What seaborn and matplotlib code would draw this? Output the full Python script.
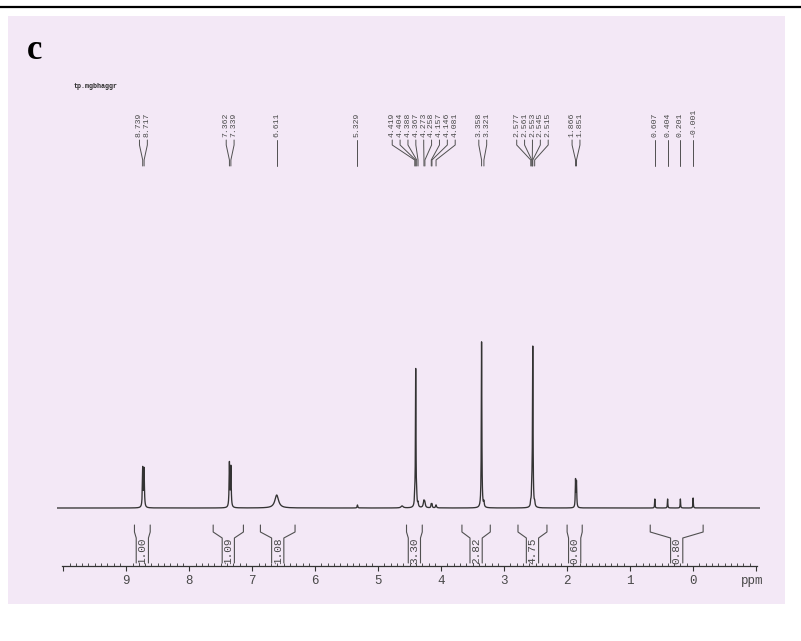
import numpy as np
import pandas as pd
import matplotlib
matplotlib.use("Agg")
import matplotlib.pyplot as plt
from matplotlib.patches import Rectangle
from matplotlib.lines import Line2D
from matplotlib.ticker import FixedLocator
import seaborn as sns

# ---- 1H NMR peak list: chemical shift (ppm), height, half width ----
peak_ppm = [8.739, 8.717, 7.362, 7.339, 6.611, 5.329, 4.620,
            4.419, 4.404, 4.388, 4.367, 4.273, 4.258, 4.157, 4.146, 4.081,
            3.358, 3.321,
            2.577, 2.561, 2.553, 2.545, 2.515,
            1.866, 1.851,
            0.607, 0.404, 0.201, -0.001]
peak_height = [39, 38, 44, 40, 13, 3, 2,
               8, 138, 6, 4, 7, 4, 3.5, 3.5, 3,
               166, 5,
               4, 15, 12, 157, 4,
               27, 25,
               9, 9, 9, 10]
peak_hwhm = [0.006, 0.006, 0.006, 0.006, 0.035, 0.006, 0.02,
             0.005, 0.005, 0.005, 0.006, 0.012, 0.008, 0.006, 0.006, 0.008,
             0.005, 0.006,
             0.005, 0.005, 0.005, 0.005, 0.006,
             0.005, 0.005,
             0.004, 0.004, 0.004, 0.004]

# ---- peak-pick labels, grouped as printed above the spectrum ----
shift_groups = [
    ["8.739", "8.717"],
    ["7.362", "7.339"],
    ["6.611"],
    ["5.329"],
    ["4.419", "4.404", "4.388", "4.367", "4.273", "4.258", "4.157", "4.146", "4.081"],
    ["3.358", "3.321"],
    ["2.577", "2.561", "2.553", "2.545", "2.515"],
    ["1.866", "1.851"],
    ["0.607"],
    ["0.404"],
    ["0.201"],
    ["-0.001"],
]

# ---- integrals: value and region (left ppm, right ppm) ----
integral_values = [1.00, 1.09, 1.08, 3.30, 2.82, 4.75, 0.60, 0.80]
integral_left = [8.87, 7.62, 6.87, 4.55, 3.67, 2.78, 2.00, 0.68]
integral_right = [8.62, 7.14, 6.32, 4.30, 3.22, 2.32, 1.76, -0.16]

# ---- axis ticks ----
tick_values = list(range(-1, 11))
tick_labels = ["" if v in (-1, 10) else str(v) for v in tick_values]
minor_ticks = np.round(np.arange(-1.0, 10.001, 0.1), 1)

sns.set_style("white")
plt.rcParams["font.family"] = ["Liberation Mono", "DejaVu Sans"]

PAPER = "#f3e8f6"
INK = "#333333"
TEXT = "#484848"

W, H = 801, 641
fig = plt.figure(figsize=(W / 100, H / 100), dpi=100, facecolor="white")


def fx(px):
    return px / W


def fy(py):
    return 1 - py / H


# paper sheet and the rule along the top
fig.add_artist(Rectangle((fx(8), fy(604)), fx(785) - fx(8), fy(16) - fy(604),
                         transform=fig.transFigure, facecolor=PAPER,
                         edgecolor="none", zorder=0))
fig.add_artist(Line2D([0, 1], [fy(6.5), fy(6.5)], transform=fig.transFigure,
                      color="black", lw=1.6))

ax = fig.add_axes([fx(57), fy(566), fx(760) - fx(57), fy(15) - fy(566)])
ax.set_facecolor("none")

# spectrum built from the peak list
ppm = np.arange(-1.07, 10.10, 0.0005)
intensity = np.zeros_like(ppm)
for c, h, w in zip(peak_ppm, peak_height, peak_hwhm):
    intensity += h * w ** 2 / ((ppm - c) ** 2 + w ** 2)
spec = pd.DataFrame({"ppm": ppm, "intensity": intensity})
sns.lineplot(data=spec, x="ppm", y="intensity", ax=ax, color=INK, lw=0.95,
             estimator=None, sort=False)

ax.set_xlim(10.10, -1.063)
ax.set_ylim(-58, 493)
ax.set_xlabel("")
ax.set_ylabel("")
ax.set_yticks([])
for side in ("top", "right", "left"):
    ax.spines[side].set_visible(False)
ax.spines["bottom"].set_color(INK)
ax.spines["bottom"].set_linewidth(0.9)
ax.spines["bottom"].set_bounds(-1.02, 10.02)

ax.xaxis.set_major_locator(FixedLocator(tick_values))
ax.xaxis.set_minor_locator(FixedLocator(minor_ticks))
ax.set_xticklabels(tick_labels)
ax.tick_params(axis="x", which="major", direction="out", length=3.6, width=0.8,
               color=INK, pad=3.2, labelsize=9, labelcolor=TEXT, bottom=True)
ax.tick_params(axis="x", which="minor", direction="in", length=2.2, width=0.6,
               color=INK, bottom=True)
ax.annotate("ppm", xy=(-0.94, 0), xycoords=("data", "axes fraction"),
            xytext=(0, -6.8), textcoords="offset points", ha="center", va="top",
            fontsize=9, color=TEXT)

# peak-pick labels with their leader lines
spacing = 0.125
y_text, y_top, y_k1, y_k2, y_bot = 371, 368, 363, 348, 342
for group in shift_groups:
    vals = [float(s) for s in group]
    n = len(vals)
    center = float(np.mean(vals))
    for i, (s, v) in enumerate(zip(group, vals)):
        lx = center + ((n - 1) / 2 - i) * spacing
        ax.plot([lx, lx, v, v], [y_top, y_k1, y_k2, y_bot], color="#505050",
                lw=0.7, clip_on=False)
        ax.text(lx, y_text, s, rotation=90, ha="center", va="bottom",
                fontsize=5.9, color=TEXT, clip_on=False)

# integral brackets below the baseline
tube = 0.097
for val, left, right in zip(integral_values, integral_left, integral_right):
    c = (left + right) / 2
    ax.plot([left, left, c + tube, c + tube], [-17, -24, -30, -55],
            color="#505050", lw=0.8, clip_on=False)
    ax.plot([right, right, c - tube, c - tube], [-17, -24, -30, -55],
            color="#505050", lw=0.8, clip_on=False)
    ax.text(c, -42.5, f"{val:.2f}", rotation=90, ha="center", va="center",
            fontsize=8.0, color=TEXT, clip_on=False)

# panel letter and experiment name
fig.text(fx(27), fy(59), "c", fontsize=25, fontweight="bold",
         family=["Liberation Serif", "DejaVu Serif"], color="black",
         va="baseline", ha="left")
fig.text(fx(74), fy(87), "tp.mgbhaggr", fontsize=4.8, color="#2a2a2a",
         fontweight="bold", va="center", ha="left")

fig.savefig("out.png", dpi=100, facecolor="white")
